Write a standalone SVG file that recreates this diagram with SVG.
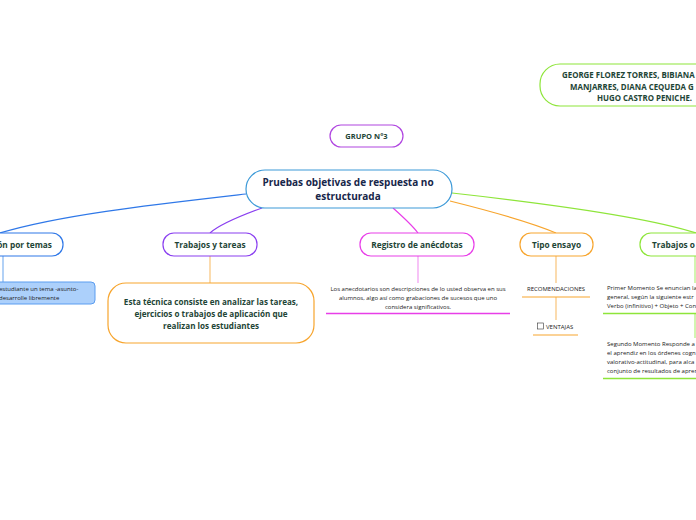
<svg xmlns="http://www.w3.org/2000/svg" width="696" height="520" viewBox="0 0 696 520">
<style>
text{font-family:"Open Sans","Noto Sans","Liberation Sans",sans-serif}
.b{font-weight:bold;fill:#1e4536}
.t{font-size:8.3px}
.s{font-size:6px;fill:#222}
</style>
<rect width="696" height="520" fill="#fff"/>
<g id="connectors" fill="none" stroke-width="1.2">
<path d="M246,194 C150,205 60,215 0,233" stroke="#2f78e8"/>
<path d="M262,208 C240,216 220,224 210,233" stroke="#8a3ff0"/>
<path d="M393,208 C402,216 412,225 418,233" stroke="#e83ee8"/>
<path d="M450,201 C490,211 530,222 556,233" stroke="#f7a52e"/>
<path d="M452,193 C560,205 650,218 696,233" stroke="#8ee53a"/>
<path d="M3,256 V282" stroke="#7fb2f0"/>
<path d="M210,256 V283" stroke="#f9c47a"/>
<path d="M418,256 V283" stroke="#f29cf2"/>
<path d="M556,256 V283 M556,297 V320" stroke="#f9c47a"/>
<path d="M695,256 V283 M695,313 V338" stroke="#b5ef7e"/>
</g>
<g id="authors">
<rect x="540" y="64" width="200" height="42" rx="20" fill="#fff" stroke="#8ee53a" stroke-width="1.2"/>
<text class="b" font-size="7.9" x="562" y="78">GEORGE FLOREZ TORRES, BIBIANA</text>
<text class="b" font-size="7.9" x="570" y="90">MANJARRES, DIANA CEQUEDA G</text>
<text class="b" font-size="7.9" x="597" y="101">HUGO CASTRO PENICHE.</text>
</g>
<g id="grupo">
<rect x="330" y="125" width="73" height="22" rx="11" fill="#fff" stroke="#b046e0" stroke-width="1.2"/>
<text class="b" font-size="7.5" x="366.5" y="139" text-anchor="middle">GRUPO N°3</text>
</g>
<g id="root">
<rect x="246" y="170" width="206" height="38" rx="19" fill="#fff" stroke="#3d9ad8" stroke-width="1.2"/>
<text font-weight="bold" font-size="10" fill="#17264a" x="348" y="186" text-anchor="middle">Pruebas objetivas de respuesta no</text>
<text font-weight="bold" font-size="10" fill="#17264a" x="348" y="200" text-anchor="middle">estructurada</text>
</g>
<g id="n-temas">
<rect x="-80" y="233" width="143" height="23" rx="11" fill="#fff" stroke="#2f78e8" stroke-width="1.2"/>
<text class="b t" x="52" y="248" text-anchor="end">ón por temas</text>
</g>
<g id="n-temas-desc">
<rect x="-60" y="282" width="155" height="22" rx="4" fill="#acd0fb" stroke="#5b9df0" stroke-width="1"/>
<text class="s" x="-1" y="291">estudiante un tema -asunto-</text>
<text class="s" x="-1" y="300">desarrolle  libremente</text>
</g>
<g id="n-trabajos">
<rect x="163" y="233" width="94" height="23" rx="11" fill="#fff" stroke="#8a3ff0" stroke-width="1.2"/>
<text class="b t" x="210" y="248" text-anchor="middle">Trabajos y tareas</text>
</g>
<g id="n-trabajos-desc">
<rect x="108" y="283" width="206" height="60" rx="18" fill="#fff" stroke="#f7a52e" stroke-width="1.2"/>
<text class="b" font-size="8.1" x="211" y="305" text-anchor="middle">Esta técnica consiste en analizar las tareas,</text>
<text class="b" font-size="8.1" x="211" y="317" text-anchor="middle">ejercicios o trabajos de aplicación que</text>
<text class="b" font-size="8.1" x="211" y="329" text-anchor="middle">realizan los estudiantes</text>
</g>
<g id="n-registro">
<rect x="360" y="233" width="114" height="23" rx="11" fill="#fff" stroke="#e83ee8" stroke-width="1.2"/>
<text class="b t" x="417" y="248" text-anchor="middle">Registro de anécdotas</text>
</g>
<g id="n-registro-desc">
<text class="s" x="418" y="291" text-anchor="middle">Los anecdotarios son descripciones de lo usted observa en sus</text>
<text class="s" x="418" y="300" text-anchor="middle">alumnos, algo así como grabaciones de sucesos que uno</text>
<text class="s" x="418" y="309" text-anchor="middle">considera significativos.</text>
<line x1="326" y1="313.5" x2="510" y2="313.5" stroke="#e83ee8" stroke-width="1.5"/>
</g>
<g id="n-ensayo">
<rect x="520" y="233" width="73" height="23" rx="11" fill="#fff" stroke="#f7a52e" stroke-width="1.2"/>
<text class="b t" x="556.5" y="248" text-anchor="middle">Tipo ensayo</text>
</g>
<g id="n-recomendaciones">
<text class="s" x="556" y="291" text-anchor="middle">RECOMENDACIONES</text>
<line x1="522" y1="297" x2="590" y2="297" stroke="#f7a52e" stroke-width="1.2"/>
</g>
<g id="n-ventajas">
<rect x="537.5" y="323" width="6" height="6" fill="#fff" stroke="#333" stroke-width="0.6"/>
<text class="s" x="546" y="329">VENTAJAS</text>
<line x1="533" y1="335" x2="578" y2="335" stroke="#f7a52e" stroke-width="1.2"/>
</g>
<g id="n-trabajos-o">
<rect x="640" y="233" width="120" height="23" rx="11" fill="#fff" stroke="#8ee53a" stroke-width="1.2"/>
<text class="b t" x="652" y="248">Trabajos o</text>
</g>
<g id="n-primer">
<text class="s" x="607" y="290">Primer Momento Se enuncian la</text>
<text class="s" x="607" y="299">general, según la siguiente estr</text>
<text class="s" x="607" y="308">Verbo (infinitivo) + Objeto + Con</text>
<line x1="603" y1="313.5" x2="696" y2="313.5" stroke="#8ee53a" stroke-width="1.5"/>
</g>
<g id="n-segundo">
<text class="s" x="607" y="346">Segundo Momento Responde a</text>
<text class="s" x="607" y="355">el aprendiz en los órdenes cogn</text>
<text class="s" x="607" y="364">valorativo-actitudinal, para alca</text>
<text class="s" x="607" y="373">conjunto de resultados de apren</text>
<line x1="603" y1="378.5" x2="696" y2="378.5" stroke="#8ee53a" stroke-width="1.5"/>
</g>
</svg>
